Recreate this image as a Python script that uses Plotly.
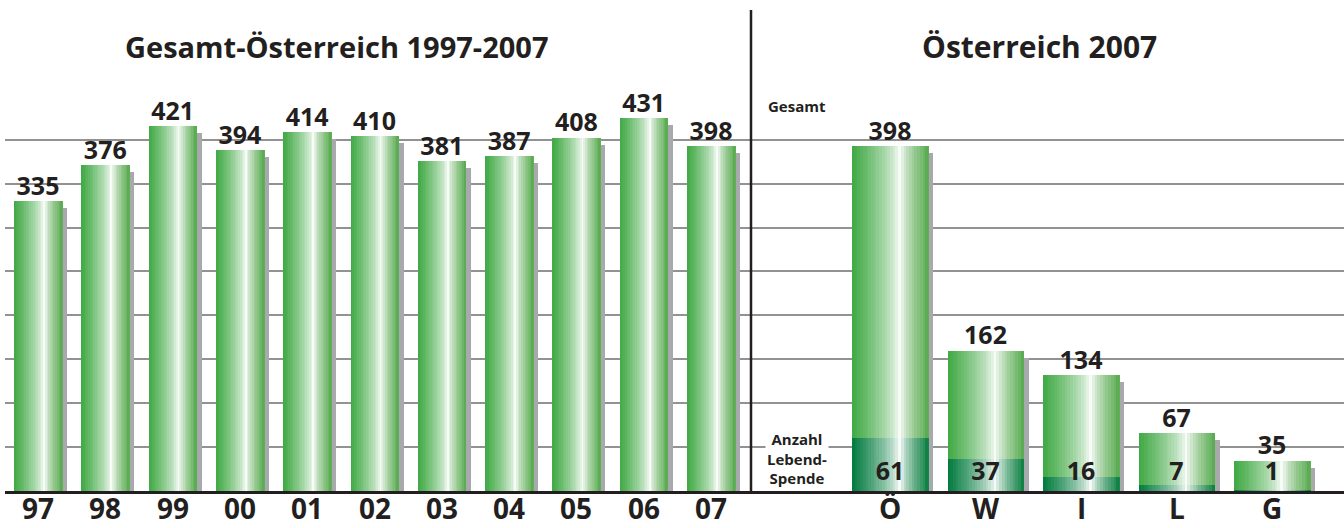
import plotly.graph_objects as go

# ---------------- data ----------------
years = ["97", "98", "99", "00", "01", "02", "03", "04", "05", "06", "07"]
totals_years = [335, 376, 421, 394, 414, 410, 381, 387, 408, 431, 398]

regions = ["Ö", "W", "I", "L", "G"]
totals_2007 = [398, 162, 134, 67, 35]
living_2007 = [61, 37, 16, 7, 1]

title_left = "Gesamt-Österreich 1997-2007"
title_right = "Österreich 2007"

# ---------------- style ----------------
W, H = 1344, 528
FONT = "Open Sans"
TXT = "#231f20"
GREEN_L = (62, 168, 66)
GREEN_R = (92, 172, 84)
DARK_L = (0, 122, 61)
DARK_R = (18, 130, 70)
SHADOW = "#a7a9ac"
GRID = "#929292"

def px_x(p):
    return p / W

def px_y(p):
    return 1 - p / H

# geometry (pixel-based) -> axis ranges
base_px, top_px = 491, 10
ppu = 0.866  # pixels per value unit
y_range = [0, (base_px - top_px) / ppu]
y_dom = [px_y(base_px), px_y(top_px)]
grid_vals = [50.7 * k for k in range(1, 9)]

L_c0, L_step, L_w = 38, 67.3, 48
R_c0, R_step, R_w = 890, 95.5, 76
split = 745
L_dom = [5, split]
R_dom = [split, W]
L_range = [(L_dom[0] - L_c0) / L_step, (L_dom[1] - L_c0) / L_step]
R_range = [(R_dom[0] - R_c0) / R_step, (R_dom[1] - R_c0) / R_step]

N = 28
HL = 0.63


def mix(c1, c2, f):
    return "rgb(%d,%d,%d)" % tuple(round(a + (b - a) * f) for a, b in zip(c1, c2))


def strip_color(u, cl, cr):
    if u <= HL:
        s = (HL - u) / HL
        edge = cl
    else:
        s = (u - HL) / (1 - HL)
        edge = cr
    f = min(1.0, s) ** 0.7
    return mix((255, 255, 255), edge, f)


fig = go.Figure()


def gradient_bars(xs, ys, width, xa, ya, cl, cr):
    step = width / N
    for i in range(N):
        u = (i + 0.5) / N
        fig.add_trace(go.Bar(
            x=xs, y=ys, xaxis=xa, yaxis=ya,
            width=step * 1.35, offset=-width / 2 + i * step,
            marker=dict(color=strip_color(u, cl, cr), line=dict(width=0)),
            showlegend=False, hoverinfo="skip",
        ))
    fig.add_trace(go.Bar(
        x=xs, y=ys, xaxis=xa, yaxis=ya,
        width=step, offset=width / 2 - step,
        marker=dict(color=mix(cr, cr, 0), line=dict(width=0)),
        showlegend=False, hoverinfo="skip",
    ))


# ---- left panel ----
xl = list(range(len(years)))
lw = L_w / L_step
fig.add_trace(go.Bar(
    x=xl, y=[v - 8 for v in totals_years], xaxis="x", yaxis="y",
    width=lw, offset=-lw / 2 + 5 / L_step,
    marker=dict(color=SHADOW, line=dict(width=0)), showlegend=False, hoverinfo="skip",
))
gradient_bars(xl, totals_years, lw, "x", "y", GREEN_L, GREEN_R)
fig.add_trace(go.Scatter(
    x=xl, y=totals_years, xaxis="x", yaxis="y", mode="text",
    text=[str(v) for v in totals_years], textposition="top center",
    textfont=dict(family=FONT, size=25, color=TXT, weight=700),
    showlegend=False, hoverinfo="skip",
))

# ---- right panel ----
xr = list(range(len(regions)))
rw = R_w / R_step
fig.add_trace(go.Bar(
    x=xr, y=[v - 8 for v in totals_2007], xaxis="x2", yaxis="y2",
    width=rw, offset=-rw / 2 + 5 / R_step,
    marker=dict(color=SHADOW, line=dict(width=0)), showlegend=False, hoverinfo="skip",
))
gradient_bars(xr, totals_2007, rw, "x2", "y2", GREEN_L, GREEN_R)
gradient_bars(xr, living_2007, rw, "x2", "y2", DARK_L, DARK_R)
fig.add_trace(go.Scatter(
    x=xr, y=totals_2007, xaxis="x2", yaxis="y2", mode="text",
    text=[str(v) for v in totals_2007], textposition="top center",
    textfont=dict(family=FONT, size=25, color=TXT, weight=700),
    showlegend=False, hoverinfo="skip",
))
fig.add_trace(go.Scatter(
    x=xr, y=[20] * len(xr), xaxis="x2", yaxis="y2", mode="text",
    text=[str(v) for v in living_2007], textposition="middle center",
    textfont=dict(family=FONT, size=25, color=TXT, weight=700),
    showlegend=False, hoverinfo="skip",
))

axis_common = dict(
    showline=True, linecolor=TXT, linewidth=3, ticks="", showgrid=False,
    zeroline=False, showticklabels=False, fixedrange=True, automargin=False,
)
yaxis_common = dict(
    range=y_range, domain=y_dom, showgrid=True, gridcolor=GRID, gridwidth=1.5,
    tickmode="array", tickvals=grid_vals, showticklabels=False, zeroline=False,
    showline=False, fixedrange=True, automargin=False,
)

# category labels under the axes, positioned through the x axes
cat_labels = []
for xs, labels, xref in ((xl, years, "x"), (xr, regions, "x2")):
    for xv, lab in zip(xs, labels):
        cat_labels.append(dict(
            text=lab, x=xv, xref=xref, y=0, yref="paper",
            showarrow=False, xanchor="center", yanchor="bottom", borderpad=0,
            font=dict(family=FONT, size=28, color=TXT, weight=700)))

fig.update_layout(
    width=W, height=H, margin=dict(l=0, r=0, t=0, b=0, autoexpand=False),
    paper_bgcolor="white", plot_bgcolor="rgba(0,0,0,0)",
    barmode="overlay", bargap=0,
    xaxis=dict(domain=[px_x(L_dom[0]), px_x(L_dom[1])], range=L_range, anchor="y",
               **axis_common),
    yaxis=dict(anchor="x", **yaxis_common),
    xaxis2=dict(domain=[px_x(R_dom[0]), px_x(R_dom[1])], range=R_range, anchor="y2",
                **axis_common),
    yaxis2=dict(anchor="x2", **yaxis_common),
    font=dict(family=FONT, color=TXT),
    shapes=[
        dict(type="line", xref="paper", yref="paper",
             x0=px_x(751), x1=px_x(751), y0=px_y(10), y1=px_y(base_px),
             line=dict(color=TXT, width=2.5)),
    ],
    annotations=[
        dict(text=title_left, xref="paper", yref="paper", x=px_x(337), y=px_y(46),
             showarrow=False, xanchor="center", yanchor="middle",
             font=dict(family=FONT, size=29, color=TXT, weight=700)),
        dict(text=title_right, xref="paper", yref="paper", x=px_x(1039), y=px_y(46),
             showarrow=False, xanchor="center", yanchor="middle",
             font=dict(family=FONT, size=30, color=TXT, weight=700)),
        dict(text="Gesamt", xref="paper", yref="paper", x=px_x(797), y=px_y(106),
             showarrow=False, xanchor="center", yanchor="middle",
             font=dict(family=FONT, size=15, color=TXT, weight=700)),
        dict(text="Anzahl<br>Lebend-<br>Spende", xref="paper", yref="paper",
             x=px_x(797), y=px_y(458), showarrow=False, xanchor="center",
             yanchor="middle", bgcolor="white",
             font=dict(family=FONT, size=15, color=TXT, weight=700)),
    ] + cat_labels,
)

fig.write_html("out.html", config={"displayModeBar": False},
               post_script="document.body.style.margin='0';")
